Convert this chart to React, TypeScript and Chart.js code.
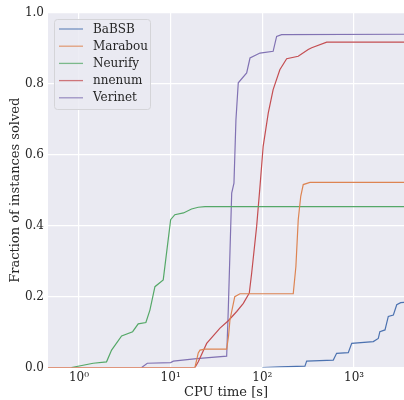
import React, { useEffect, useRef } from 'react';
import { Chart, registerables } from 'chart.js';

Chart.register(...registerables);

const FONT = "'DejaVu Serif', serif";
const TEXT = '#262626';

const seriesNames = ['BaBSB', 'Marabou', 'Neurify', 'nnenum', 'Verinet'];
const seriesColors = ['#4C72B0', '#DD8452', '#55A868', '#C44E52', '#8172B3'];

const babsbX = [100, 155, 291, 304, 593, 645, 864, 942, 1620, 1836, 1910, 2172, 2360, 2680, 2917, 3220, 3600];
const babsbY = [0, 0.002, 0.004, 0.018, 0.021, 0.04, 0.042, 0.068, 0.073, 0.082, 0.101, 0.106, 0.144, 0.148, 0.177, 0.183, 0.184];

const marabouX = [0.46, 18.4, 20, 20.9, 23.7, 40.8, 42.8, 44.3, 50, 57, 217, 232, 246, 262, 279, 330, 3600];
const marabouY = [0, 0, 0.041, 0.049, 0.052, 0.052, 0.09, 0.134, 0.2, 0.208, 0.208, 0.285, 0.417, 0.483, 0.516, 0.522, 0.522];

const neurifyX = [0.83, 1.43, 2.0, 2.27, 2.92, 3.85, 4.43, 5.37, 5.94, 6.74, 8.3, 10.0, 11.1, 13.8, 16.9, 20, 23.7, 3600];
const neurifyY = [0, 0.012, 0.016, 0.049, 0.089, 0.101, 0.123, 0.127, 0.162, 0.228, 0.247, 0.417, 0.431, 0.436, 0.447, 0.452, 0.454, 0.454];

const nnenumX = [0.46, 18.4, 20, 24.7, 34.5, 42.5, 52.5, 62, 72, 76.4, 86.6, 94.2, 102, 116, 131, 155, 184, 246, 316, 345, 503, 3600];
const nnenumY = [0, 0, 0.016, 0.068, 0.111, 0.132, 0.158, 0.181, 0.21, 0.266, 0.398, 0.511, 0.624, 0.718, 0.784, 0.84, 0.871, 0.878, 0.897, 0.902, 0.918, 0.918];

const verinetX = [4.83, 5.56, 10, 10.7, 19.2, 40.8, 42.5, 44.3, 46.3, 49, 51.5, 54.6, 67.4, 73.3, 94.2, 131, 143, 162, 3600];
const verinetY = [0, 0.012, 0.014, 0.018, 0.025, 0.032, 0.164, 0.323, 0.492, 0.52, 0.699, 0.803, 0.831, 0.873, 0.887, 0.892, 0.934, 0.939, 0.94];

const xTickValues = [1, 10, 100, 1000];
const xTickLabels = ['10⁰', '10¹', '10²', '10³'];
const yTickValues = [0, 0.2, 0.4, 0.6, 0.8, 1.0];

const xMin = 0.46;
const xMax = 3500;

const seriesX = [babsbX, marabouX, neurifyX, nnenumX, verinetX];
const seriesY = [babsbY, marabouY, neurifyY, nnenumY, verinetY];

const bgPlugin = {
  id: 'bgPlugin',
  beforeDraw(chart: any) {
    const { ctx, chartArea } = chart;
    ctx.save();
    ctx.fillStyle = '#EAEAF2';
    ctx.fillRect(chartArea.left, chartArea.top, chartArea.right - chartArea.left, chartArea.bottom - chartArea.top);
    ctx.restore();
  },
};

const legendPlugin = {
  id: 'innerLegend',
  afterDraw(chart: any) {
    const { ctx } = chart;
    const x0 = 54.5, y0 = 19.5, w = 96, h = 90, r = 3;
    ctx.save();
    ctx.beginPath();
    ctx.moveTo(x0 + r, y0);
    ctx.lineTo(x0 + w - r, y0);
    ctx.quadraticCurveTo(x0 + w, y0, x0 + w, y0 + r);
    ctx.lineTo(x0 + w, y0 + h - r);
    ctx.quadraticCurveTo(x0 + w, y0 + h, x0 + w - r, y0 + h);
    ctx.lineTo(x0 + r, y0 + h);
    ctx.quadraticCurveTo(x0, y0 + h, x0, y0 + h - r);
    ctx.lineTo(x0, y0 + r);
    ctx.quadraticCurveTo(x0, y0, x0 + r, y0);
    ctx.closePath();
    ctx.fillStyle = 'rgba(234,234,242,0.85)';
    ctx.fill();
    ctx.strokeStyle = '#d4d4d8';
    ctx.lineWidth = 1;
    ctx.stroke();
    ctx.font = `12px ${FONT}`;
    ctx.textBaseline = 'middle';
    ctx.textAlign = 'left';
    seriesNames.forEach((name, i) => {
      const yy = 29 + i * 17.2;
      ctx.strokeStyle = seriesColors[i];
      ctx.globalAlpha = 0.75;
      ctx.lineWidth = 1.3;
      ctx.beginPath();
      ctx.moveTo(59, yy);
      ctx.lineTo(83, yy);
      ctx.stroke();
      ctx.globalAlpha = 1;
      ctx.fillStyle = TEXT;
      ctx.fillText(name, 93, yy + 0.5);
    });
    ctx.restore();
  },
};

export default function App() {
  const canvasRef = useRef<HTMLCanvasElement | null>(null);

  useEffect(() => {
    if (!canvasRef.current) return;
    const datasets = seriesNames.map((name, i) => ({
      label: name,
      data: seriesX[i].map((x, j) => ({ x, y: seriesY[i][j] })),
      borderColor: seriesColors[i],
      backgroundColor: seriesColors[i],
      borderWidth: 1.2,
      pointRadius: 0,
      showLine: true,
      tension: 0,
      fill: false,
    }));

    const chart = new Chart(canvasRef.current, {
      type: 'scatter',
      data: { datasets },
      plugins: [bgPlugin, legendPlugin],
      options: {
        animation: false,
        responsive: false,
        maintainAspectRatio: false,
        layout: { padding: { left: 0, right: 0, top: 13, bottom: 0 } },
        plugins: {
          legend: { display: false },
          tooltip: { enabled: false },
        },
        scales: {
          x: {
            type: 'logarithmic',
            min: xMin,
            max: xMax,
            border: { display: false },
            grid: { color: '#ffffff', lineWidth: 1.2, drawTicks: false },
            afterBuildTicks: (scale: any) => {
              scale.ticks = xTickValues.map((v) => ({ value: v }));
            },
            afterFit: (scale: any) => {
              scale.height = 32.5;
            },
            ticks: {
              color: TEXT,
              font: { family: FONT, size: 12 },
              padding: 3,
              autoSkip: false,
              maxRotation: 0,
              callback: (v: any) => {
                const idx = xTickValues.indexOf(Number(v));
                return idx >= 0 ? xTickLabels[idx] : '';
              },
            },
            title: {
              display: true,
              text: 'CPU time [s]',
              color: TEXT,
              font: { family: FONT, size: 13 },
              padding: { top: 0, bottom: 0 },
            },
          },
          y: {
            min: 0,
            max: 1,
            border: { display: false },
            grid: { color: '#ffffff', lineWidth: 1.2, drawTicks: false },
            afterBuildTicks: (scale: any) => {
              scale.ticks = yTickValues.map((v) => ({ value: v }));
            },
            afterFit: (scale: any) => {
              scale.width = 48;
            },
            ticks: {
              color: TEXT,
              font: { family: FONT, size: 12 },
              padding: 4,
              callback: (v: any) => Number(v).toFixed(1),
            },
            title: {
              display: true,
              text: 'Fraction of instances solved',
              color: TEXT,
              font: { family: FONT, size: 13 },
              padding: { top: 8, bottom: 0 },
            },
          },
        },
      },
    });
    return () => chart.destroy();
  }, []);

  return (
    <div style={{ position: 'fixed', left: 0, top: 0, width: 404, height: 400, background: '#ffffff' }}>
      <canvas ref={canvasRef} width={404} height={400} style={{ width: 404, height: 400, display: 'block' }} />
    </div>
  );
}
